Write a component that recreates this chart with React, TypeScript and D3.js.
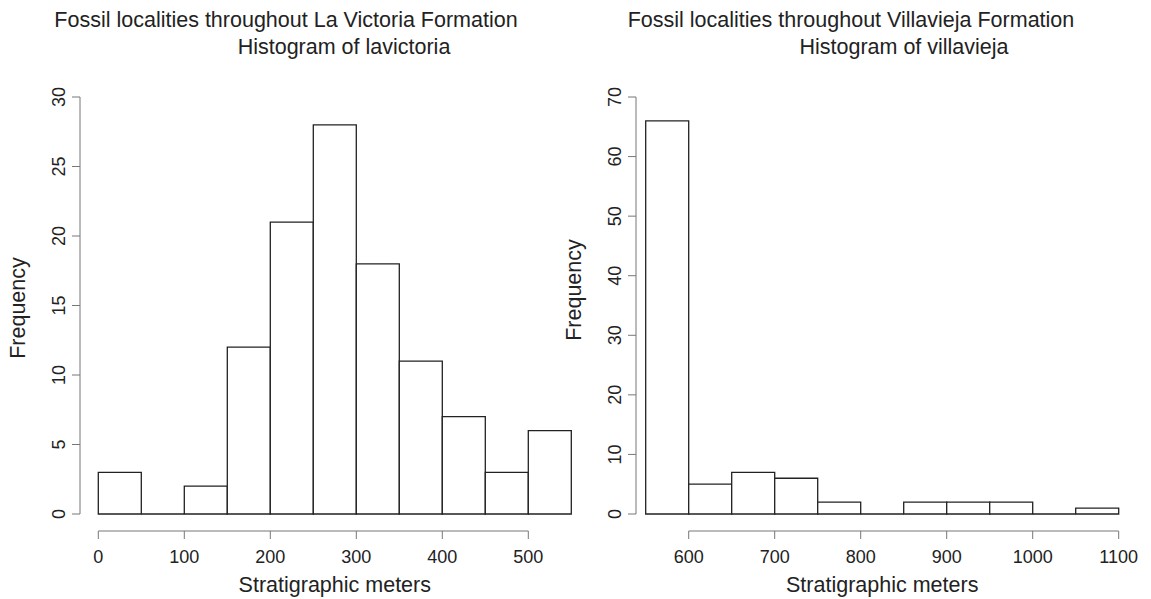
import React from 'react';
import * as d3 from 'd3';

// bin edges (stratigraphic meters) and counts
const laVictoriaBreaks = [0, 50, 100, 150, 200, 250, 300, 350, 400, 450, 500, 550];
const laVictoriaCounts = [3, 0, 2, 12, 21, 28, 18, 11, 7, 3, 6];
const laVictoriaXTicks = [0, 100, 200, 300, 400, 500];
const laVictoriaYTicks = [0, 5, 10, 15, 20, 25, 30];

const villaviejaBreaks = [550, 600, 650, 700, 750, 800, 850, 900, 950, 1000, 1050, 1100];
const villaviejaCounts = [66, 5, 7, 6, 2, 0, 2, 2, 2, 0, 1];
const villaviejaXTicks = [600, 700, 800, 900, 1000, 1100];
const villaviejaYTicks = [0, 10, 20, 30, 40, 50, 60, 70];

const FONT = '"Liberation Sans", Arial, Helvetica, sans-serif';
const INK = '#222';
const AXIS = '#777';

type PanelProps = {
  breaks: number[];
  counts: number[];
  xTicks: number[];
  yTicks: number[];
  title1: string;
  title2: string;
  x0: number; // pixel of first break
  yAxisX: number;
  t1x: number;
  t2x: number;
  ylabY: number;
};

const Panel = ({ breaks, counts, xTicks, yTicks, title1, title2, x0, yAxisX, t1x, t2x, ylabY }: PanelProps) => {
  const lo = breaks[0];
  const hi = breaks[breaks.length - 1];
  const x = d3.scaleLinear().domain([lo, hi]).range([x0, x0 + (hi - lo) * 0.86]);
  const yMax = yTicks[yTicks.length - 1];
  const y = d3.scaleLinear().domain([0, yMax]).range([514, 97]);
  const bins = counts.map((c, i) => ({ a: breaks[i], b: breaks[i + 1], c }));
  const xAxisY = 531;
  const midX = (x(lo) + x(hi)) / 2;

  // closed outline, so empty bins still leave a line on the baseline like R's hist()
  const barPath = (d: { a: number; b: number; c: number }) => {
    const p = d3.path();
    p.moveTo(x(d.a), y(0));
    p.lineTo(x(d.a), y(d.c));
    p.lineTo(x(d.b), y(d.c));
    p.lineTo(x(d.b), y(0));
    p.closePath();
    return p.toString();
  };

  return (
    <g>
      <text x={t1x} y={27} textAnchor="middle" fontSize={21.5} fill={INK}>{title1}</text>
      <text x={t2x} y={54} textAnchor="middle" fontSize={21.5} fill={INK}>{title2}</text>

      {bins.map((d, i) => (
        <path key={i} d={barPath(d)} fill="white" stroke={INK} strokeWidth={1.3} />
      ))}

      {/* x axis */}
      <line x1={x(xTicks[0])} x2={x(xTicks[xTicks.length - 1])} y1={xAxisY} y2={xAxisY} stroke={AXIS} />
      {xTicks.map(t => (
        <g key={t}>
          <line x1={x(t)} x2={x(t)} y1={xAxisY} y2={xAxisY + 8} stroke={AXIS} />
          <text x={x(t)} y={563} textAnchor="middle" fontSize={18} fill={INK}>{t}</text>
        </g>
      ))}
      <text x={midX} y={592} textAnchor="middle" fontSize={21.5} fill={INK}>Stratigraphic meters</text>

      {/* y axis */}
      <line x1={yAxisX} x2={yAxisX} y1={y(0)} y2={y(yMax)} stroke={AXIS} />
      {yTicks.map(t => (
        <g key={t}>
          <line x1={yAxisX - 8} x2={yAxisX} y1={y(t)} y2={y(t)} stroke={AXIS} />
          <text transform={`translate(${yAxisX - 15},${y(t)}) rotate(-90)`} textAnchor="middle"
            fontSize={18} fill={INK}>{t}</text>
        </g>
      ))}
      <text transform={`translate(${yAxisX - 55},${ylabY}) rotate(-90)`} textAnchor="middle"
        fontSize={21.5} fill={INK}>Frequency</text>
    </g>
  );
};

const App = () => {
  return (
    <svg width={1151} height={599} style={{ position: 'absolute', left: 0, top: 0, fontFamily: FONT }}>
      <rect width={1151} height={599} fill="white" />
      <Panel breaks={laVictoriaBreaks} counts={laVictoriaCounts} xTicks={laVictoriaXTicks} yTicks={laVictoriaYTicks}
        title1="Fossil localities throughout La Victoria Formation" title2="Histogram of lavictoria"
        x0={98.3} yAxisX={80} t1x={286} t2x={344} ylabY={308} />
      <Panel breaks={villaviejaBreaks} counts={villaviejaCounts} xTicks={villaviejaXTicks} yTicks={villaviejaYTicks}
        title1="Fossil localities throughout Villavieja Formation" title2="Histogram of villavieja"
        x0={645.7} yAxisX={636} t1x={851} t2x={904} ylabY={290} />
    </svg>
  );
};

export default App;
